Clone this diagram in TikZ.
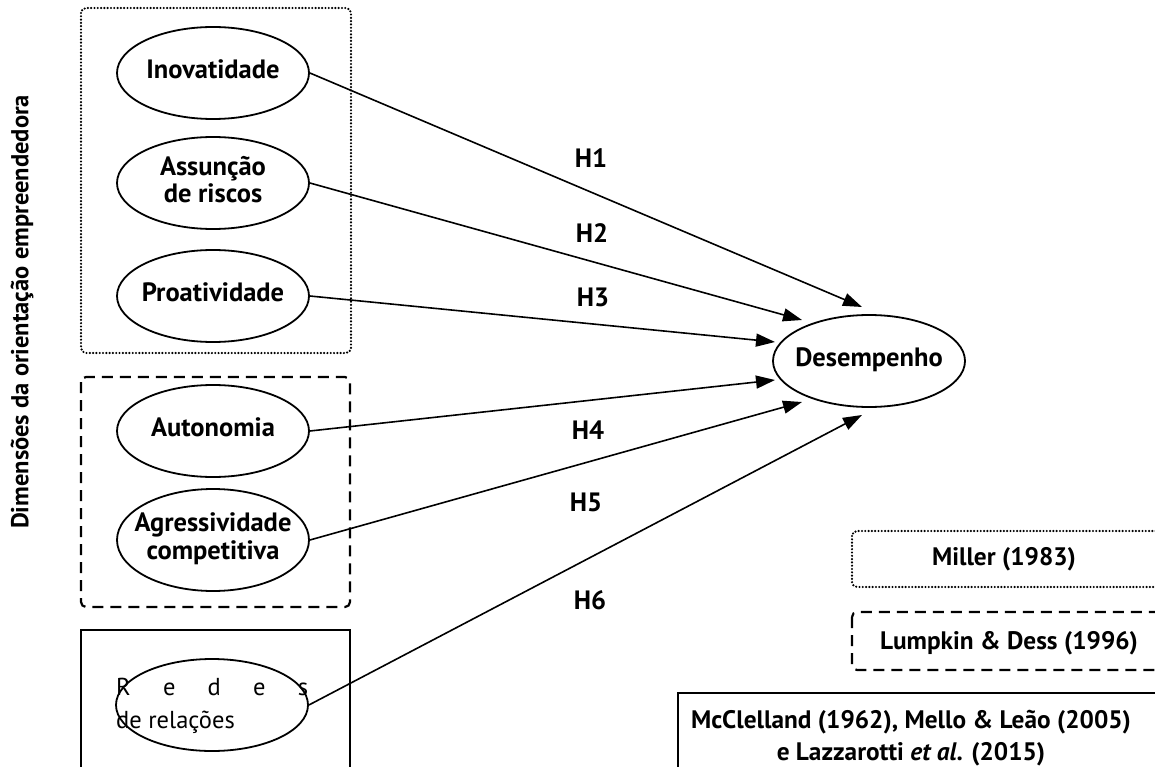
\documentclass[tikz,border=0pt]{standalone}
\usepackage{fontspec}
\setmainfont{PT Sans}
\usetikzlibrary{shapes.geometric,arrows.meta}
\newcommand{\ctxt}[1]{\makebox[0pt][c]{\begin{tabular}{@{}c@{}}#1\end{tabular}}}
\begin{document}
\begin{tikzpicture}[x=1pt,y=-1pt,
  lblfont/.style={font=\fontsize{26.5}{26}\selectfont\bfseries},
  legfont/.style={font=\fontsize{25.3}{32}\selectfont\bfseries},
  ell/.style={draw, ellipse, line width=1.8pt, minimum width=192pt, minimum height=92pt, inner sep=0pt, lblfont},
  arr/.style={line width=1.6pt, -{Triangle[length=19pt,width=13pt]}},
  dotbox/.style={line width=2.4pt, dash pattern=on 0pt off 3.3pt, line cap=round, rounded corners=5pt},
  dashbox/.style={line width=2.2pt, dash pattern=on 11pt off 7pt, rounded corners=5pt},
  solidbox/.style={line width=1.8pt},
  hlab/.style={lblfont, inner sep=0pt}
]
\useasboundingbox (0,0) rectangle (1155,767);

% group boxes
\draw[dotbox] (81,8) rectangle (351,353);
\draw[dashbox] (81,377) rectangle (350,607);
\draw[solidbox] (81,630) rectangle (350,790);

% side label
\node[font=\fontsize{24.5}{30}\selectfont\bfseries, rotate=90] (side) at (22,312) {Dimensões da orientação empreendedora};

% ellipses
\node[ell] (ino) at (213,73) {\ctxt{Inovatidade}};
\node[ell] (ass) at (213,183) {\ctxt{Assunção\\de riscos}};
\node[ell] (pro) at (213,296) {\ctxt{Proatividade}};
\node[ell] (aut) at (213,431) {\ctxt{Autonomia}};
\node[ell, minimum height=102pt] (agr) at (213,540) {\ctxt{Agressividade\\[2pt]competitiva}};
\node[ell] (red) at (212,705) {};
\node[font=\fontsize{24.5}{33}\selectfont, anchor=base west, inner sep=0pt, align=left] (redtxt) at (116,728)
  {\makebox[192pt][l]{R\hfill e\hfill d\hfill e\hfill s}\\de relações};
\node[ell] (des) at (869,361) {\ctxt{Desempenho}};

% arrow targets
\coordinate (t1) at ([shift={(-7,-54)}]des.center);
\coordinate (t2) at ([shift={(-67,-41)}]des.center);
\coordinate (t3) at ([shift={(-94,-19)}]des.center);
\coordinate (t4) at ([shift={(-94,19)}]des.center);
\coordinate (t5) at ([shift={(-67,41)}]des.center);
\coordinate (t6) at ([shift={(-7,54)}]des.center);

\draw[arr] (ino.east) -- (t1);
\draw[arr] (ass.east) -- (t2);
\draw[arr] (pro.east) -- (t3);
\draw[arr] (aut.east) -- (t4);
\draw[arr] (agr.east) -- (t5);
\draw[arr] (red.east) -- (t6);

% hypothesis labels
\node[hlab] (h1) at (591,158) {H1};
\node[hlab] (h2) at (592,233) {H2};
\node[hlab] (h3) at (593,297) {H3};
\node[hlab] (h4) at (588,430) {H4};
\node[hlab] (h5) at (586,502) {H5};
\node[hlab] (h6) at (590,600) {H6};

% legend
\draw[dotbox] (852,531) rectangle (1170,587);
\node[legfont, inner sep=0pt] (miller) at (1004,559) {Miller (1983)};
\draw[dashbox] (852,612) rectangle (1170,670);
\node[legfont, inner sep=0pt] (lumpkin) at (1009,643) {Lumpkin \& Dess (1996)};
\draw[solidbox] (678,693) rectangle (1170,800);
\node[legfont, inner sep=0pt, align=center] (mcc) at (911,738) {McClelland (1962), Mello \& Leão (2005)\\e Lazzarotti \textit{et al}. (2015)};
\end{tikzpicture}
\end{document}
